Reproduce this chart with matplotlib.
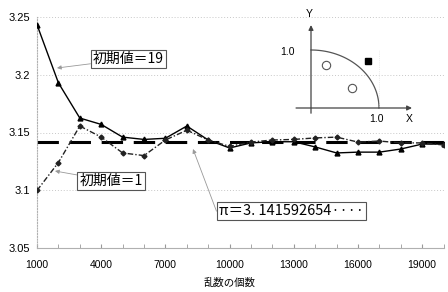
import matplotlib
matplotlib.use("Agg")
import matplotlib.pyplot as plt
import numpy as np

plt.rcParams['font.family'] = ['Liberation Sans', 'Noto Sans CJK JP', 'DejaVu Sans']

n_points = [1000, 2000, 3000, 4000, 5000, 6000, 7000, 8000, 9000, 10000,
            11000, 12000, 13000, 14000, 15000, 16000, 17000, 18000, 19000, 20000]
seed19 = [3.2433, 3.193, 3.1625, 3.157, 3.146, 3.144, 3.145, 3.1556, 3.1435, 3.1366,
          3.141, 3.142, 3.142, 3.1375, 3.1323, 3.133, 3.133, 3.1357, 3.140, 3.140]
seed1 = [3.0998, 3.124, 3.1556, 3.146, 3.1323, 3.130, 3.1435, 3.152, 3.1435, 3.138,
         3.1417, 3.1435, 3.144, 3.1453, 3.146, 3.1417, 3.1426, 3.141, 3.141, 3.1392]
pi_value = np.pi
x_ticks = [1000, 4000, 7000, 10000, 13000, 16000, 19000]
y_ticks = [3.05, 3.1, 3.15, 3.2, 3.25]
y_tick_labels = ["3.05", "3.1", "3.15", "3.2", "3.25"]
label19 = "初期値＝19"
label1 = "初期値＝1"
label_pi = "π＝3. 141592654····"
xlabel = "乱数の個数"

# inset diagram content
inside_pts_x = [0.22, 0.60]
inside_pts_y = [0.74, 0.345]
outside_pts_x = [0.84]
outside_pts_y = [0.81]

W, H = 448, 292
fig = plt.figure(figsize=(W / 100, H / 100), dpi=100)
ax = fig.add_axes([37 / W, 1 - 248 / H, (443.6 - 37) / W, (248 - 17) / H])

ax.set_xlim(1000, 20000)
ax.set_ylim(3.05, 3.25)

for yv in [3.1, 3.15, 3.2, 3.25]:
    ax.axhline(yv, color='#c8c8c8', lw=0.7, ls=(0, (1, 2)), zorder=0)

ax.axhline(pi_value, color='black', lw=2.2, ls=(0, (7, 3.5)), zorder=2)
ax.plot(n_points, seed19, color='black', lw=1.0, marker='^', ms=3.5, zorder=3)
ax.plot(n_points, seed1, color='#222222', lw=1.0, ls=(0, (4, 1.5, 1, 1.5)),
        marker='D', ms=2.5, zorder=3)

for s in ['top', 'right']:
    ax.spines[s].set_visible(False)
ax.spines['left'].set_color('#b0b0b0')
ax.spines['left'].set_linestyle((0, (1, 1.5)))
ax.spines['left'].set_linewidth(0.8)
ax.spines['bottom'].set_color('#b0b0b0')
ax.spines['bottom'].set_linewidth(0.8)

ax.set_xticks(x_ticks)
ax.set_xticklabels([str(v) for v in x_ticks], fontsize=7.5)
ax.set_xticks(n_points, minor=True)
ax.set_yticks(y_ticks)
ax.set_yticklabels(y_tick_labels, fontsize=8)
ax.tick_params(axis='x', which='both', direction='in', length=3, color='#999999', pad=9)
ax.tick_params(axis='y', length=0, pad=5)

fig.text(230 / W, 1 - 283 / H, xlabel, ha='center', va='center', fontsize=7.5,
         family=['Noto Sans CJK JP', 'DejaVu Sans'])

def px2data(px, py):
    return 1000 + (px - 37) / 21.4 * 1000, 3.25 - (py - 17) / 1155

bbox = dict(boxstyle='square,pad=0.15', fc='white', ec='#555555', lw=0.8)
arrow = dict(arrowstyle='-|>', color='#999999', lw=0.6, mutation_scale=6,
             shrinkA=0, shrinkB=0)
cjk = ['Noto Sans CJK JP', 'DejaVu Sans']

ax.annotate(label19, xy=px2data(57, 68), xytext=px2data(128.5, 59),
            ha='center', va='center', fontsize=10, family=cjk, bbox=bbox,
            arrowprops=arrow, zorder=5)
ax.annotate(label1, xy=px2data(55, 171), xytext=px2data(111, 181),
            ha='center', va='center', fontsize=10, family=cjk, bbox=bbox,
            arrowprops=arrow, zorder=5)
ax.annotate(label_pi, xy=px2data(193, 149), xytext=px2data(291.5, 211),
            ha='center', va='center', fontsize=10.5, family=cjk, bbox=bbox,
            arrowprops=dict(arrowstyle='-|>', color='#999999', lw=0.6,
                            mutation_scale=6, shrinkA=0, shrinkB=0,
                            relpos=(0.0, 0.0)), zorder=5)

# inset: quarter circle diagram
x0p, x1p, y0p, y1p = 228, 400, 3, 134
ins = fig.add_axes([x0p / W, 1 - y1p / H, (x1p - x0p) / W, (y1p - y0p) / H])
ins.set_facecolor('white')
ins.set_xlim((x0p - 311) / 68, (x1p - 311) / 68)
ins.set_ylim((108 - y1p) / 58, (108 - y0p) / 58)
ins.axis('off')
ins.patch.set_visible(True)
th = np.linspace(0, np.pi / 2, 100)
ins.plot(np.cos(th), np.sin(th), color='#555555', lw=0.9, clip_on=False)
ins.plot([1, 1], [0, 1], color='#dddddd', lw=0.5, ls=':', clip_on=False)
ins.annotate('', xy=(1.485, 0), xytext=(-0.22, 0), annotation_clip=False,
             arrowprops=dict(arrowstyle='-|>', color='#444444', lw=0.9, mutation_scale=7,
                             shrinkA=0, shrinkB=0))
ins.annotate('', xy=(0, 1.43), xytext=(0, -0.09), annotation_clip=False,
             arrowprops=dict(arrowstyle='-|>', color='#444444', lw=0.9, mutation_scale=7,
                             shrinkA=0, shrinkB=0))
ins.plot(inside_pts_x, inside_pts_y, ls='none', marker='o', ms=6, mfc='white',
         mec='#555555', mew=0.8)
ins.plot(outside_pts_x, outside_pts_y, ls='none', marker='s', ms=5, color='black')
ins.text(-0.35, 0.966, "1.0", ha='center', va='center', fontsize=7.5)
ins.text(0.96, -0.19, "1.0", ha='center', va='center', fontsize=7.5)
ins.text(-0.03, 1.62, "Y", ha='center', va='center', fontsize=7.5)
ins.text(1.44, -0.19, "X", ha='center', va='center', fontsize=7.5, clip_on=False)

fig.savefig("out.png", dpi=100)
